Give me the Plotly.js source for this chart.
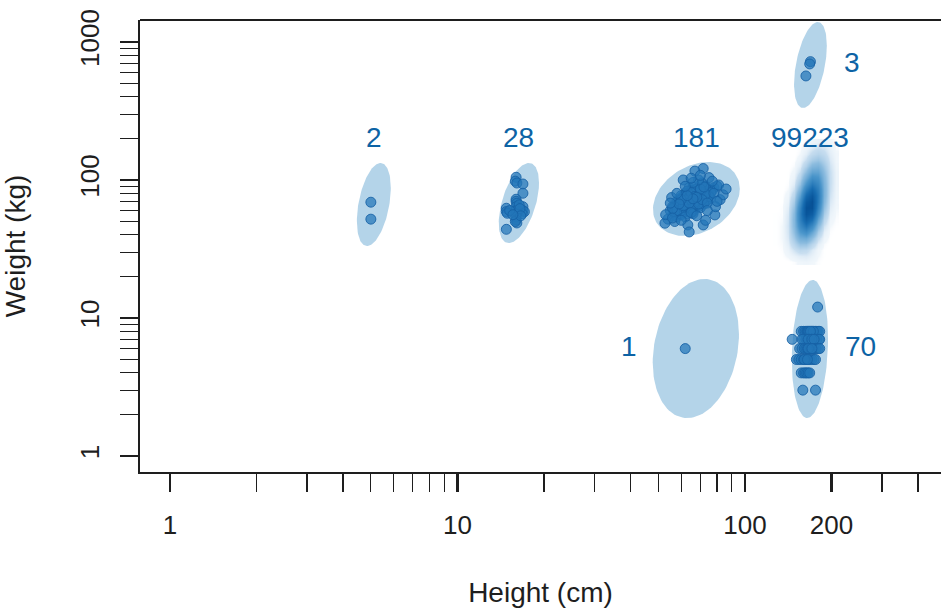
<!DOCTYPE html>
<html>
<head>
<meta charset="utf-8">
<script src="https://cdn.plot.ly/plotly-3.0.1.min.js"></script>
<style>
  html, body { margin: 0; padding: 0; background: #fff; }
  #chart { width: 941px; height: 608px; }
</style>
</head>
<body>
<div id="chart"></div>
<script>
// ---- Individual measurements per group (height in cm, weight in kg) ----
const heights1 = [62];
const weights1 = [6];

const heights2 = [5.0, 5.0];
const weights2 = [69, 52];

const heights3 = [169, 168, 163];
const weights3 = [720, 693, 567];

const heights28 = [16.0, 15.9, 16.1, 16.9, 16.9, 16.0, 16.0, 16.1, 16.0, 14.8,
                   14.8, 14.9, 16.9, 16.9, 17.1, 16.8, 16.0, 16.1, 16.0, 16.0,
                   16.1, 15.9, 14.8, 16.4, 16.5, 15.2, 16.6, 15.6];
const weights28 = [104.6, 98, 95, 93.5, 80.1, 72.5, 70, 67.8, 64, 62.4,
                   59, 57.4, 64, 60, 58.9, 57, 60, 57.4, 54, 51.3,
                   48.8, 50, 43.9, 66, 62, 60, 55, 56];

const heights70 = [179,
  157, 160, 162, 164, 165, 166, 168, 170, 171, 172, 174, 176, 178, 180, 182, 167, 173, 169,
  146, 160, 163, 165, 167, 168, 170, 172, 175, 178, 181, 182, 158, 166, 171, 174,
  155, 158, 161, 163, 165, 167, 169, 170, 172, 174, 177, 180, 182, 166, 171,
  151, 154, 157, 160, 163, 166, 168, 171, 174, 176, 161, 165,
  157, 160, 162, 164, 166, 168,
  159, 176];
const weights70 = [12,
  8, 8, 8, 8, 8, 8, 8, 8, 8, 8, 8, 8, 8, 8, 8, 8, 8, 8,
  7, 7, 7, 7, 7, 7, 7, 7, 7, 7, 7, 7, 7, 7, 7, 7,
  6, 6, 6, 6, 6, 6, 6, 6, 6, 6, 6, 6, 6, 6, 6,
  5, 5, 5, 5, 5, 5, 5, 5, 5, 5, 5, 5,
  4, 4, 4, 4, 4, 4,
  3, 3];

const heights181 = [
  64, 67, 61, 70, 58, 66, 63, 72, 60, 68,
  65, 62, 71, 59, 66, 74, 63, 69, 57, 64,
  70, 61, 67, 75, 62, 66, 60, 73, 65, 68,
  56, 64, 71, 59, 67, 63, 69, 76, 62, 65,
  58, 72, 66, 61, 70, 64, 68, 60, 74, 63,
  67, 55, 71, 65, 62, 78, 66, 59, 69, 64,
  72, 61, 67, 57, 70, 63, 75, 66, 60, 68,
  64, 73, 62, 58, 69, 65, 61, 71, 67, 56,
  77, 64, 70, 60, 66, 63, 72, 59, 68, 65,
  74, 62, 69, 57, 66, 64, 71, 61, 67, 80,
  63, 70, 58, 65, 73, 60, 68, 62, 76, 66,
  54, 69, 64, 71, 59, 67, 63, 72, 61, 66,
  57, 70, 65, 75, 62, 68, 60, 64, 73, 66,
  63, 69, 58, 71, 65, 61, 67, 78, 62, 70,
  64, 56, 68, 74, 60, 66, 63, 72, 59, 65,
  52.7, 71.6, 67, 61, 81, 82, 55.6, 63.3, 71.6, 78.6,
  64, 57, 75, 84, 53, 69, 79, 66, 56, 60,
  74, 77, 62, 68, 58, 86, 65, 73, 70, 55,
  80];
const weights181 = [
  72, 75, 66, 80, 62, 70, 69, 84, 74, 65,
  78, 60, 73, 68, 82, 77, 64, 71, 58, 88,
  67, 76, 62, 86, 71, 67, 63, 90, 61, 79,
  55, 66, 68, 72, 85, 57, 76, 74, 80, 70,
  66, 78, 59, 69, 92, 63, 73, 56, 82, 74,
  68, 60, 86, 66, 64, 88, 77, 61, 64, 81,
  71, 58, 72, 65, 75, 79, 79, 62, 70, 83,
  69, 70, 75, 54, 87, 73, 62, 81, 65, 64,
  84, 76, 70, 67, 89, 61, 74, 57, 68, 84,
  72, 68, 78, 61, 74, 59, 77, 73, 80, 90,
  67, 63, 70, 76, 88, 60, 71, 78, 81, 64,
  52, 74, 72, 95, 64, 69, 83, 67, 71, 79,
  59, 82, 63, 76, 66, 86, 77, 75, 79, 57,
  72, 67, 60, 72, 81, 65, 76, 80, 54, 86,
  68, 62, 75, 68, 72, 73, 77, 89, 67, 58,
  48.6, 121, 116, 100, 92, 72, 74.6, 47.2, 47.2, 55.8,
  42, 50, 104, 78, 56, 100, 64, 96, 53, 51,
  60, 98, 90, 55, 80, 86, 103, 51, 108, 68,
  70];

// ---- Binned density for the large group (heights in cm, weights in kg) ----
const densityCount = 99223;
const densityHeights = [128.2, 134.5, 141.1, 148.1, 155.4, 163.0, 171.0, 179.5, 188.3, 197.6, 207.3];
const densityWeights = [25.5, 28.1, 31.2, 34.5, 38.1, 42.1, 46.5, 51.4, 56.8, 62.8, 69.4,
                        76.7, 84.8, 93.7, 103.5, 114.4, 126.4, 139.7, 154.4, 170.6, 188.6];
const densityZ = [
  [0.000, 0.000, 0.000, 0.002, 0.006, 0.008, 0.005, 0.002, 0.000, 0.000, 0.000],
  [0.000, 0.001, 0.005, 0.013, 0.022, 0.024, 0.014, 0.004, 0.001, 0.000, 0.000],
  [0.000, 0.002, 0.011, 0.034, 0.058, 0.052, 0.025, 0.006, 0.001, 0.000, 0.000],
  [0.001, 0.003, 0.019, 0.068, 0.129, 0.129, 0.068, 0.019, 0.003, 0.000, 0.000],
  [0.001, 0.004, 0.027, 0.107, 0.226, 0.251, 0.147, 0.046, 0.008, 0.001, 0.000],
  [0.001, 0.004, 0.032, 0.143, 0.336, 0.416, 0.272, 0.094, 0.017, 0.002, 0.000],
  [0.001, 0.004, 0.034, 0.167, 0.436, 0.600, 0.436, 0.167, 0.034, 0.004, 0.001],
  [0.001, 0.003, 0.031, 0.174, 0.505, 0.772, 0.624, 0.266, 0.060, 0.007, 0.002],
  [0.001, 0.002, 0.027, 0.163, 0.526, 0.897, 0.807, 0.382, 0.096, 0.013, 0.003],
  [0.000, 0.002, 0.020, 0.135, 0.487, 0.923, 0.923, 0.487, 0.135, 0.020, 0.004],
  [0.000, 0.001, 0.013, 0.100, 0.399, 0.842, 0.936, 0.549, 0.170, 0.028, 0.006],
  [0.000, 0.001, 0.008, 0.067, 0.297, 0.696, 0.861, 0.563, 0.194, 0.035, 0.008],
  [0.000, 0.000, 0.004, 0.040, 0.200, 0.523, 0.720, 0.523, 0.200, 0.040, 0.009],
  [0.000, 0.000, 0.002, 0.022, 0.125, 0.362, 0.554, 0.448, 0.191, 0.043, 0.010],
  [0.000, 0.000, 0.001, 0.012, 0.074, 0.238, 0.405, 0.365, 0.173, 0.043, 0.010],
  [0.000, 0.000, 0.001, 0.006, 0.041, 0.146, 0.277, 0.277, 0.146, 0.041, 0.010],
  [0.000, 0.000, 0.000, 0.003, 0.021, 0.082, 0.174, 0.193, 0.113, 0.035, 0.008],
  [0.000, 0.000, 0.000, 0.001, 0.009, 0.041, 0.096, 0.119, 0.078, 0.027, 0.006],
  [0.000, 0.000, 0.000, 0.000, 0.004, 0.020, 0.051, 0.070, 0.051, 0.020, 0.005],
  [0.000, 0.000, 0.000, 0.000, 0.002, 0.009, 0.026, 0.040, 0.032, 0.014, 0.003],
  [0.000, 0.000, 0.000, 0.000, 0.000, 0.003, 0.010, 0.016, 0.013, 0.006, 0.001]
];

// ---- Group summary ellipses (centre in cm/kg, spread in log10 units, correlation) ----
const ellipseCentreHeight = [5.12, 16.36, 67.8, 67.5, 169, 168.3];
const ellipseCentreWeight = [66.4, 68.1, 72.8, 6.01, 681, 5.96];
const ellipseSpreadLogHeight = [0.059, 0.070, 0.151, 0.150, 0.057, 0.063];
const ellipseSpreadLogWeight = [0.301, 0.290, 0.268, 0.504, 0.312, 0.500];
const ellipseCorrelation = [0.40, 0.50, 0.28, 0.20, 0.45, 0.15];

// ---- Axis ticks ----
const xTickVals = [1, 10, 100, 200];
const xTickText = ['1', '10', '100', '200'];
const yTickVals = [1, 10, 100, 1000];
const yTickText = ['1', '10', '100', '1000'];

// ------------------------------------------------------------------
const groups = [
  { h: heights2,   w: weights2,   place: 'above' },
  { h: heights28,  w: weights28,  place: 'above' },
  { h: heights181, w: weights181, place: 'above' },
  { h: heights1,   w: weights1,   place: 'left'  },
  { h: heights3,   w: weights3,   place: 'right' },
  { h: heights70,  w: weights70,  place: 'right' }
];

const FONT = 'Liberation Sans, Arial, Helvetica, sans-serif';
const INK = '#1e1e1e';
const LABEL_BLUE = '#0d63a5';
const ELLIPSE_FILL = '#b4d4e9';
const LABEL_ROW_WEIGHT = 203;   // kg level of the labels above the groups
const X_RANGE = [-0.104, 2.682];
const Y_RANGE = [-0.116, 3.159];

function minorTicks(decadesFrom, decadesTo, skip) {
  const out = [];
  for (let d = decadesFrom; d <= decadesTo; d++) {
    for (let m = 2; m <= 9; m++) {
      const v = m * Math.pow(10, d);
      if (!skip.includes(v)) out.push(v);
    }
  }
  return out;
}

function ellipsePath(i) {
  const cx = Math.log10(ellipseCentreHeight[i]);
  const cy = Math.log10(ellipseCentreWeight[i]);
  const sx = ellipseSpreadLogHeight[i];
  const sy = ellipseSpreadLogWeight[i];
  const r = ellipseCorrelation[i];
  const q = Math.sqrt(1 - r * r);
  const xs = [], ys = [];
  for (let k = 0; k <= 120; k++) {
    const t = 2 * Math.PI * k / 120;
    xs.push(Math.pow(10, cx + sx * Math.cos(t)));
    ys.push(Math.pow(10, cy + sy * (r * Math.cos(t) + q * Math.sin(t))));
  }
  return { xs, ys };
}

const traces = [];

// ellipses underneath the points
groups.forEach((g, i) => {
  const e = ellipsePath(i);
  traces.push({
    type: 'scatter', mode: 'lines', x: e.xs, y: e.ys,
    fill: 'toself', fillcolor: ELLIPSE_FILL,
    line: { width: 0, color: ELLIPSE_FILL },
    hoverinfo: 'skip', showlegend: false
  });
});

// individual points
groups.forEach((g) => {
  traces.push({
    type: 'scatter', mode: 'markers', x: g.h, y: g.w,
    marker: {
      size: 10, color: 'rgba(35,118,185,0.72)',
      line: { width: 1, color: 'rgba(22,96,165,0.85)' }
    },
    hoverinfo: 'skip', showlegend: false
  });
});

// density of the large group, drawn on a linear overlay of log10 units
traces.push({
  type: 'heatmap',
  x: densityHeights.map(Math.log10),
  y: densityWeights.map(Math.log10),
  z: densityZ,
  xaxis: 'x2', yaxis: 'y2',
  zmin: 0, zmax: 1, zsmooth: 'best', showscale: false, hoverinfo: 'skip',
  colorscale: [
    [0, 'rgba(255,255,255,0)'],
    [0.004, 'rgba(232,241,249,0.6)'],
    [0.04, 'rgb(200,222,240)'],
    [0.15, 'rgb(140,188,223)'],
    [0.35, 'rgb(75,150,203)'],
    [0.65, 'rgb(25,110,178)'],
    [0.9, 'rgb(8,85,155)'],
    [1, 'rgb(4,70,138)']
  ]
});

// group size labels
const annotations = [];
groups.forEach((g, i) => {
  const lx = Math.log10(ellipseCentreHeight[i]);
  const ly = Math.log10(ellipseCentreWeight[i]);
  const a = {
    text: String(g.h.length), showarrow: false,
    font: { family: FONT, size: 28, color: LABEL_BLUE },
    xref: 'x', yref: 'y'
  };
  if (g.place === 'above') {
    Object.assign(a, { x: lx, y: Math.log10(LABEL_ROW_WEIGHT), xanchor: 'center', yanchor: 'middle' });
  } else if (g.place === 'right') {
    Object.assign(a, { x: lx + ellipseSpreadLogHeight[i], y: ly, xanchor: 'left', yanchor: 'middle', xshift: 15, yshift: 2 });
  } else {
    Object.assign(a, { x: lx - ellipseSpreadLogHeight[i], y: ly, xanchor: 'right', yanchor: 'middle', xshift: -14, yshift: 2 });
  }
  annotations.push(a);
});

// label of the density group, centred on its weighted mean height
let zs = 0, zx = 0;
densityZ.forEach(row => row.forEach((v, j) => { zs += v; zx += v * Math.log10(densityHeights[j]); }));
annotations.push({
  text: String(densityCount), showarrow: false,
  font: { family: FONT, size: 28, color: LABEL_BLUE },
  xref: 'x', yref: 'y', x: zx / zs, y: Math.log10(LABEL_ROW_WEIGHT),
  xanchor: 'center', yanchor: 'middle'
});

const tickFont = { family: FONT, size: 26, color: INK };

const layout = {
  width: 941, height: 608,
  margin: { l: 140, r: 0, t: 20, b: 136 },
  paper_bgcolor: '#fff', plot_bgcolor: '#fff',
  showlegend: false, hovermode: false,
  xaxis: {
    type: 'log', range: X_RANGE, autorange: false,
    showgrid: false, zeroline: false,
    showline: true, linecolor: INK, linewidth: 2,
    ticks: 'outside', ticklen: 18, tickwidth: 2.6, tickcolor: INK,
    tickmode: 'array', tickvals: xTickVals, ticktext: xTickText,
    tickfont: tickFont, ticklabelstandoff: 11,
    minor: { ticks: 'outside', ticklen: 18, tickwidth: 1.2, tickcolor: INK,
             tickmode: 'array', tickvals: minorTicks(0, 2, [200]), showgrid: false },
    title: { text: 'Height (cm)', font: { family: FONT, size: 28, color: INK }, standoff: 51 }
  },
  yaxis: {
    type: 'log', range: Y_RANGE, autorange: false,
    showgrid: false, zeroline: false,
    showline: true, linecolor: INK, linewidth: 2,
    ticks: 'outside', ticklen: 18, tickwidth: 2.6, tickcolor: INK,
    tickmode: 'array', tickvals: yTickVals, ticktext: yTickText,
    tickfont: tickFont, tickangle: -90, ticklabelstandoff: 11,
    minor: { ticks: 'outside', ticklen: 18, tickwidth: 1.2, tickcolor: INK,
             tickmode: 'array', tickvals: minorTicks(0, 2, []), showgrid: false },
    title: { text: 'Weight (kg)', font: { family: FONT, size: 28, color: INK }, standoff: 43 }
  },
  xaxis2: { overlaying: 'x', type: 'linear', range: X_RANGE, visible: false },
  yaxis2: { overlaying: 'y', type: 'linear', range: Y_RANGE, visible: false },
  shapes: [
    { type: 'line', xref: 'paper', yref: 'paper', x0: 0, x1: 1, y0: 1, y1: 1,
      line: { color: INK, width: 2 } }
  ],
  annotations: annotations
};

Plotly.newPlot('chart', traces, layout, { staticPlot: true, displayModeBar: false });
</script>
</body>
</html>
